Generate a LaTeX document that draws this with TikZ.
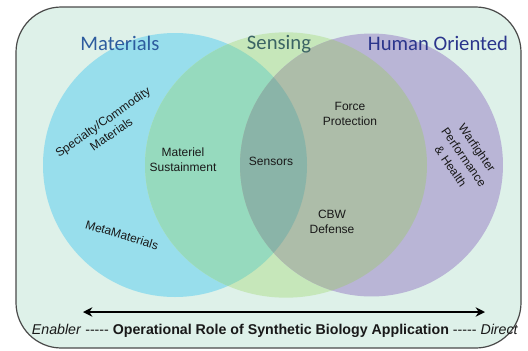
\documentclass[tikz,border=0pt]{standalone}
\usepackage{fontspec}
\setmainfont{Liberation Sans}
\newfontfamily\titlefont{Carlito}
\usetikzlibrary{arrows.meta}
\definecolor{bgc}{HTML}{DEF1E9}
\definecolor{borderc}{HTML}{4A4A4A}
\definecolor{matc}{HTML}{98DEEC}
\definecolor{senc}{HTML}{C6E7BA}
\definecolor{humc}{HTML}{B9B5D6}
\definecolor{msc}{HTML}{96DABE}
\definecolor{shc}{HTML}{ADBDA9}
\definecolor{triplec}{HTML}{8AB4A8}
\definecolor{mattitle}{HTML}{2D5C9E}
\definecolor{sentitle}{HTML}{3B6464}
\definecolor{humtitle}{HTML}{2B358C}
\newcommand{\fivedash}{-{}-{}-{}-{}-}
\tikzset{
  titletext/.style={font=\titlefont\fontsize{15.5}{18}\selectfont, anchor=base, inner sep=0pt},
  lbl/.style={font=\fontsize{9}{11}\selectfont, align=center, inner sep=0pt, text=black!90},
  rolearrow/.style={line width=1.5pt, {Stealth[length=7pt,width=7pt]}-{Stealth[length=7pt,width=7pt]}}
}
\begin{document}
\begin{tikzpicture}[x=0.75pt,y=-0.75pt]
\useasboundingbox (0,0) rectangle (528,350);
\draw[fill=bgc, draw=borderc, line width=0.9pt, rounded corners=34pt] (16,7) rectangle (521,348);
% circles
\fill[matc] (175,165) circle [radius=99pt];
\fill[senc] (286,165) ellipse [x radius=105.75pt, y radius=99.5pt];
\fill[humc] (371.5,165) circle [radius=98.6pt];
\begin{scope}
  \clip (286,165) ellipse [x radius=105.75pt, y radius=99.5pt];
  \fill[msc] (175,165) circle [radius=99pt];
  \fill[shc] (371.5,165) circle [radius=98.6pt];
  \clip (175,165) circle [radius=99pt];
  \fill[triplec] (371.5,165) circle [radius=98.6pt];
\end{scope}
% titles
\node[titletext, text=mattitle] (tmat) at (120,50) {Materials};
\node[titletext, text=sentitle] (tsen) at (279,49) {Sensing};
\node[titletext, text=humtitle] (thum) at (438,50) {Human Oriented};
% labels
\node[lbl, rotate=35] (spec) at (107,128) {Specialty/Commodity\\Materials};
\node[lbl, rotate=-17] (meta) at (122,235) {MetaMaterials};
\node[lbl] (mats) at (183,160) {Materiel\\Sustainment};
\node[lbl] (sens) at (271,161) {Sensors};
\node[lbl] (force) at (350,114) {Force\\Protection};
\node[lbl] (cbw) at (332,222) {CBW\\Defense};
\node[lbl, rotate=-55, font=\fontsize{9}{12}\selectfont] (warf) at (464,157) {Warfighter\\Performance\\\& Health};
% arrow
\coordinate (arrL) at (83,312);
\coordinate (arrR) at (485,312);
\draw[rolearrow] (arrL) -- (arrR);
\node[anchor=base, inner sep=0pt, font=\fontsize{10.65}{12}\selectfont, text=black!90] (role) at (275,334)
  {\textit{Enabler} \fivedash\ \textbf{Operational\ Role\ of\ Synthetic\ Biology\ Application} \fivedash\ \textit{Direct}};
\end{tikzpicture}
\end{document}
